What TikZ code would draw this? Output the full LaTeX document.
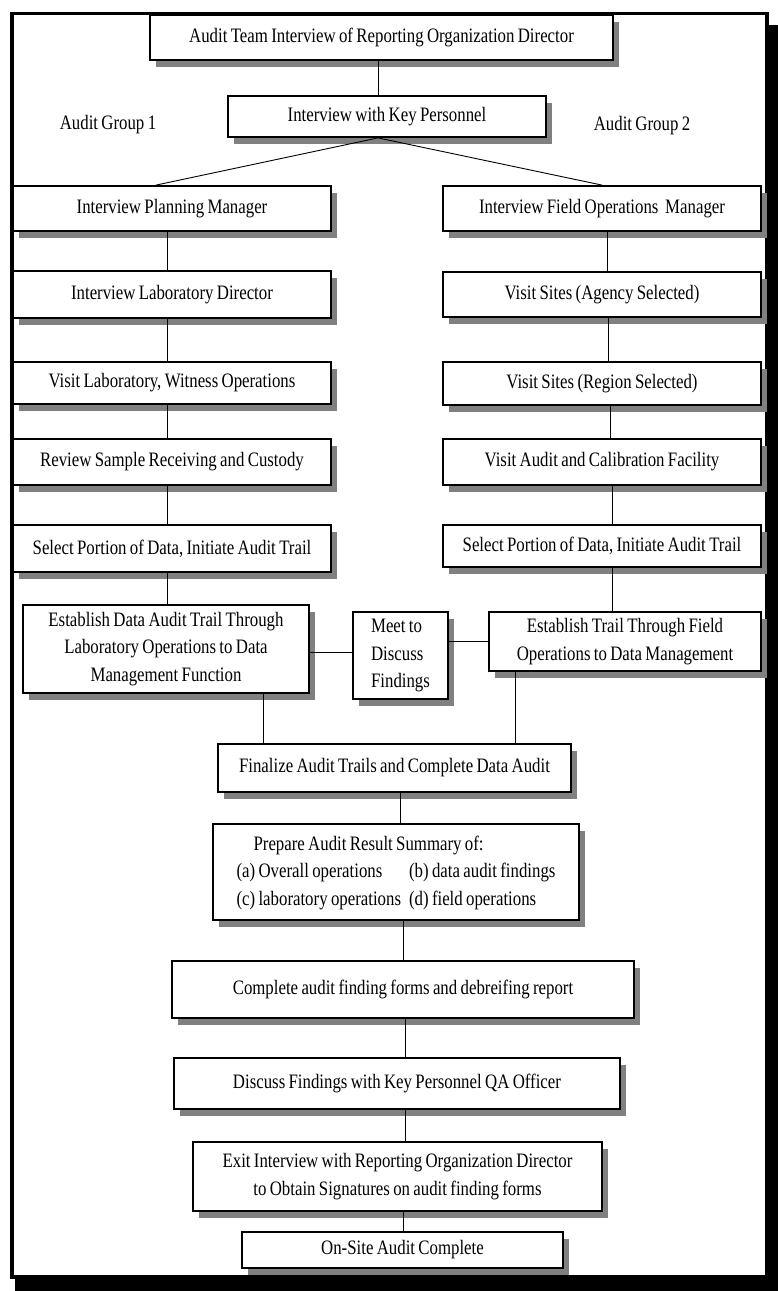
\documentclass[tikz,border=0pt]{standalone}
\usepackage{fontspec}
\setmainfont{Liberation Serif}[FakeStretch=0.82, WordSpace=0.8]
\usetikzlibrary{shadows,calc}

\tikzset{
  stepbox/.style={draw=black, line width=1.8pt, fill=white, inner sep=2pt,
    font=\fontsize{20.5}{27.5}\selectfont, align=center,
    general shadow={fill=gray, shadow xshift=6pt, shadow yshift=-7pt}},
  link/.style={draw=black, line width=0.9pt},
  grouplabel/.style={font=\fontsize{20.5}{27.5}\selectfont, inner sep=0pt}
}

\begin{document}
\begin{tikzpicture}[x=1pt, y=-1pt]
  \useasboundingbox (0,0) rectangle (778,1291);

  % page frame with heavy black shadow
  \fill[black] (15,25) rectangle (778,1291);
  \filldraw[fill=white, draw=black, line width=3.5pt] (12,13.5) rectangle (767,1277);

  % opening steps
  \node[stepbox, minimum width=463pt, minimum height=45pt] (top) at (381.5,37.5)
    {Audit Team Interview of Reporting Organization Director};
  \node[stepbox, minimum width=318pt, minimum height=41pt] (key) at (387,116.5)
    {Interview with Key Personnel};

  \node[grouplabel] (g1) at (108,125) {Audit Group 1};
  \node[grouplabel] (g2) at (642,126) {Audit Group 2};

  % audit group 1
  \node[stepbox, minimum width=318pt, minimum height=45pt] (pm) at (172,208.5)
    {Interview Planning Manager};
  \node[stepbox, minimum width=318pt, minimum height=47pt] (ld) at (172,294.5)
    {Interview Laboratory Director};
  \node[stepbox, minimum width=318pt, minimum height=42pt] (vl) at (172,383)
    {Visit Laboratory, Witness Operations};
  \node[stepbox, minimum width=318pt, minimum height=46pt] (rs) at (172,462)
    {Review Sample Receiving and Custody};
  \node[stepbox, minimum width=318pt, minimum height=47pt] (spl) at (172,548.5)
    {Select Portion of Data, Initiate Audit Trail};
  \node[stepbox, minimum width=286pt, minimum height=88pt] (est1) at (166,649)
    {Establish Data Audit Trail Through\\Laboratory Operations to Data\\Management Function};

  % audit group 2
  \node[stepbox, minimum width=318pt, minimum height=45pt] (fo) at (602,208.5)
    {Interview Field Operations\ \ Manager};
  \node[stepbox, minimum width=318pt, minimum height=45pt] (va) at (602,294.5)
    {Visit Sites (Agency Selected)};
  \node[stepbox, minimum width=318pt, minimum height=43pt] (vr) at (602,383.5)
    {Visit Sites (Region Selected)};
  \node[stepbox, minimum width=318pt, minimum height=46pt] (ac) at (602,462)
    {Visit Audit and Calibration Facility};
  \node[stepbox, minimum width=318pt, minimum height=42pt] (spr) at (602,546)
    {Select Portion of Data, Initiate Audit Trail};
  \node[stepbox, minimum width=272pt, minimum height=59pt] (est2) at (625,641.5)
    {Establish Trail Through Field\\Operations to Data Management};

  \node[stepbox, align=left, minimum width=95pt, minimum height=87pt] (meet) at (400.5,655.5)
    {Meet to\\Discuss\\Findings};

  % closing steps
  \node[stepbox, minimum width=353pt, minimum height=48pt] (fin) at (394.5,768)
    {Finalize Audit Trails and Complete Data Audit};
  \node[stepbox, minimum width=366pt, minimum height=96pt] (prep) at (396,872)
    {\begin{tabular}{@{}l@{\hspace{8pt}}l@{}}
       \multicolumn{2}{@{\hspace{17pt}}l@{}}{Prepare Audit Result Summary of:}\\
       (a) Overall operations & (b) data audit findings\\
       (c) laboratory operations & (d) field operations
     \end{tabular}};
  \node[stepbox, minimum width=462pt, minimum height=57pt] (comp) at (403,989.5)
    {Complete audit finding forms and debreifing report};
  \node[stepbox, minimum width=446pt, minimum height=51pt] (disc) at (397,1083.5)
    {Discuss Findings with Key Personnel QA Officer};
  \node[stepbox, minimum width=409pt, minimum height=69pt] (exit) at (397.5,1176.5)
    {Exit Interview with Reporting Organization Director\\to Obtain Signatures on audit finding forms};
  \node[stepbox, minimum width=321pt, minimum height=36pt] (done) at (402.5,1250)
    {On-Site Audit Complete};

  % connectors
  \draw[link] ([xshift=-3pt]top.south) -- ([xshift=-3pt]top.south |- key.north);
  \draw[link] ([xshift=-9pt]key.south) -- ($(pm.north west)!0.45!(pm.north east)$);
  \draw[link] ([xshift=-9pt]key.south) -- (fo.north);

  \draw[link] ([xshift=-5pt]pm.south) -- ([xshift=-5pt]pm.south |- ld.north);
  \draw[link] ([xshift=-5pt]ld.south) -- ([xshift=-5pt]ld.south |- vl.north);
  \draw[link] ([xshift=-5pt]vl.south) -- ([xshift=-5pt]vl.south |- rs.north);
  \draw[link] ([xshift=-5pt]rs.south) -- ([xshift=-5pt]rs.south |- spl.north);
  \draw[link] ([xshift=-5pt]spl.south) -- ([xshift=-5pt]spl.south |- est1.north);

  \draw[link] ([xshift=5pt]fo.south) -- ([xshift=5pt]fo.south |- va.north);
  \draw[link] ([xshift=6pt]va.south) -- ([xshift=6pt]va.south |- vr.north);
  \draw[link] ([xshift=8pt]vr.south) -- ([xshift=8pt]vr.south |- ac.north);
  \draw[link] ([xshift=10pt]ac.south) -- ([xshift=10pt]ac.south |- spr.north);
  \draw[link] ([xshift=10pt]spr.south) -- ([xshift=10pt]spr.south |- est2.north);

  \draw[link] ([yshift=-3pt]est1.east) -- ([yshift=-3pt]est1.east -| meet.west);
  \draw[link] (est2.west -| meet.east) -- (est2.west);

  \coordinate (e1) at ($(est1.south west)!0.84!(est1.south east)$);
  \coordinate (e2) at ($(est2.south west)!0.10!(est2.south east)$);
  \draw[link] (e1) -- (e1 |- fin.north);
  \draw[link] (e2) -- (e2 |- fin.north);

  \draw[link] ([xshift=6pt]fin.south) -- ([xshift=6pt]fin.south |- prep.north);
  \draw[link] ([xshift=7pt]prep.south) -- ([xshift=7pt]prep.south |- comp.north);
  \draw[link] ([xshift=2pt]comp.south) -- ([xshift=2pt]comp.south |- disc.north);
  \draw[link] ([xshift=8pt]disc.south) -- ([xshift=8pt]disc.south |- exit.north);
  \draw[link] ([xshift=6pt]exit.south) -- ([xshift=6pt]exit.south |- done.north);
\end{tikzpicture}
\end{document}
